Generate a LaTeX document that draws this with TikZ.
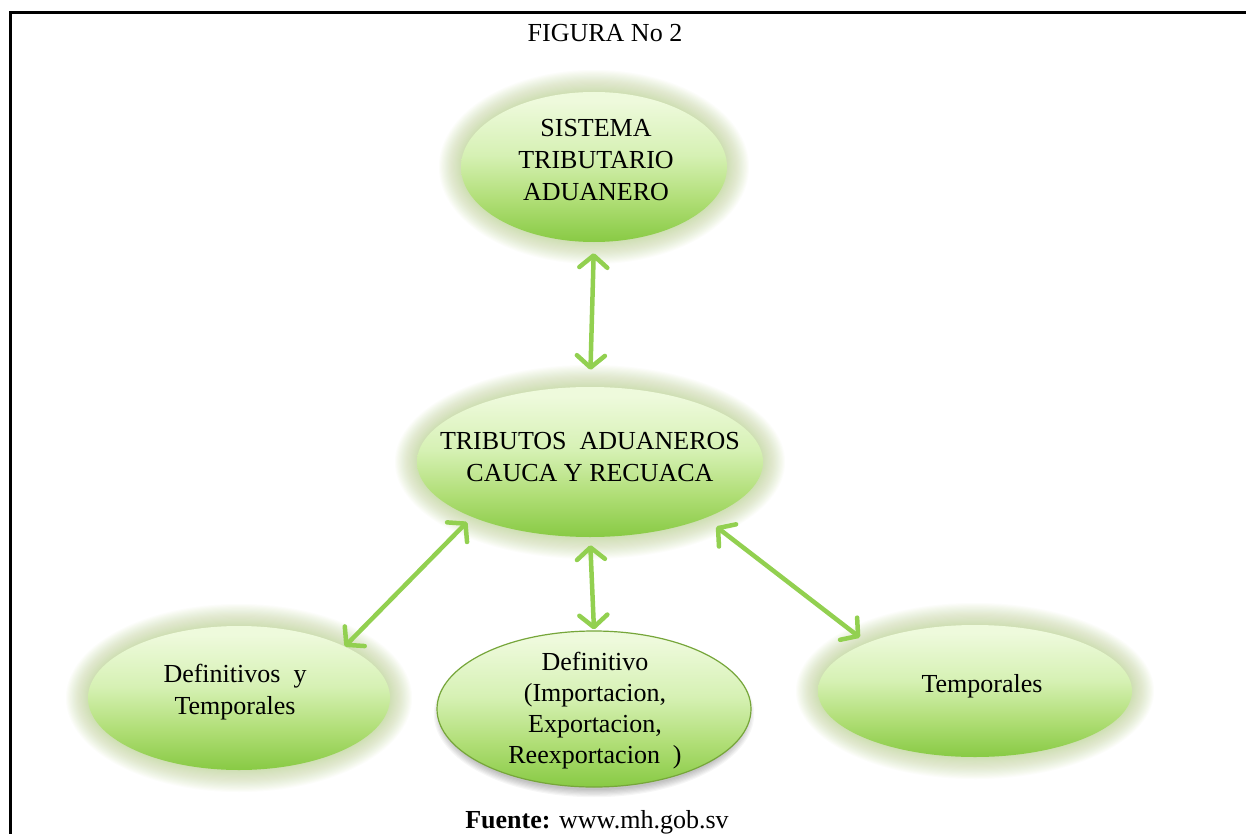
\documentclass[tikz,border=0pt]{standalone}
\usepackage{fontspec}
\setmainfont{Liberation Serif}
\usetikzlibrary{arrows.meta,shapes.geometric}

% palette
\definecolor{arrowgreen}{RGB}{146,208,80}
\definecolor{haloolive}{RGB}{178,204,126}
\definecolor{gLight}{RGB}{238,250,220}
\definecolor{gPale}{RGB}{214,241,180}
\definecolor{gMid}{RGB}{176,222,118}
\definecolor{gDeep}{RGB}{136,202,68}
\definecolor{rimgreen}{RGB}{118,166,58}

% vertical fill: light on top, deep green at the bottom
\pgfdeclareverticalshading{leafgreen}{100bp}{color(0bp)=(gDeep); color(25bp)=(gDeep); color(39bp)=(gMid); color(54bp)=(gPale); color(72bp)=(gLight); color(100bp)=(gLight)}

% soft halo around a bubble: centre x, centre y, x radius, y radius
\newcommand{\halo}[4]{%
  \foreach \k in {1,...,20}{%
    \fill[haloolive, opacity=0.036] (#1,#2) ellipse [x radius={#3pt+1.1pt*\k}, y radius={#4pt+1.1pt*\k}];
  }}
% drop shadow under a bubble
\newcommand{\dropshadow}[4]{%
  \foreach \k in {0,...,6}{%
    \fill[black, opacity=0.035] (#1,#2+5) ellipse [x radius={#3pt-4pt+1.2pt*\k}, y radius={#4pt-2pt+1.2pt*\k}];
  }}

\tikzset{
  bubble/.style={ellipse, shading=leafgreen, inner sep=0pt},
  caption/.style={font=\fontsize{26}{32}\selectfont, align=center, inner sep=0pt},
  leafbarb/.tip={Straight Barb[length=12pt, width=28pt, line cap=round, line join=round]},
  link/.style={draw=arrowgreen, line width=4.5pt, line cap=round, {leafbarb}-{leafbarb}},
}

\begin{document}
\begin{tikzpicture}[x=1pt, y=-1pt]
\useasboundingbox (0,0) rectangle (1246,834);
\fill[white] (0,0) rectangle (1246,834);

% frame
\draw[line width=3pt] (10,840) -- (10,13) -- (1250,13);

% title
\node[caption] (title) at (605,33) {FIGURA No 2};

% halos and shadow
\halo{594}{167}{133}{75}
\halo{590}{462}{173}{75}
\halo{239}{698}{151}{72}
\halo{975}{691}{157}{66}
\dropshadow{594}{709}{157}{78}

% bubbles
\node[bubble, minimum width=266pt, minimum height=150pt] (sys) at (594,167) {};
\node[bubble, minimum width=346pt, minimum height=150pt] (trib) at (590,462) {};
\node[bubble, minimum width=302pt, minimum height=144pt] (dyt) at (239,698) {};
\node[bubble, draw=rimgreen, line width=1.2pt, minimum width=314pt, minimum height=156pt] (defi) at (594,709) {};
\node[bubble, minimum width=314pt, minimum height=132pt] (temp) at (975,691) {};

% texts
\node[caption] (sysT) at (596,160) {SISTEMA\\TRIBUTARIO\\ADUANERO};
\node[caption] (tribT) at (590,457) {TRIBUTOS\ \ ADUANEROS\\CAUCA Y RECUACA};
\node[caption] (dytT) at (235,692) {Definitivos\ \ y\\Temporales};
\node[caption, font=\fontsize{26}{31}\selectfont] (defiT) at (595,711) {Definitivo\\(Importacion,\\Exportacion,\\Reexportacion\ \ )};
\node[caption] (tempT) at (982,686) {Temporales};

% connectors
\draw[link, shorten <=11pt, shorten >=17pt] (sys.south) -- (trib.north);
\draw[link, shorten <=7pt] (trib.205.1) -- (dyt.26.3);
\draw[link, shorten <=8pt, shorten >=1pt] (trib.south) -- (defi.north);
\draw[link, shorten <=14pt, shorten >=9pt] (trib.-26.6) -- (temp.156.4);

% source
\node[caption] (src) at (597,822) {\textbf{Fuente:} www.mh.gob.sv};
\end{tikzpicture}
\end{document}
